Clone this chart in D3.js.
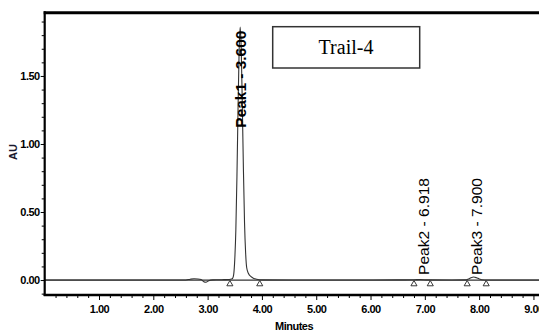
<!DOCTYPE html>
<html><head><meta charset="utf-8">
<script src="https://cdn.jsdelivr.net/npm/d3@7"></script>
<style>
html,body{margin:0;padding:0;background:#fff;}
svg{display:block;}
</style></head>
<body>
<svg id="c" width="539" height="332"></svg>
<script>
// ---- data ----
const time = [0, 1.0, 2.0, 2.6, 2.68, 2.75, 2.82, 2.88, 2.93, 2.97, 3.02, 3.1, 3.2, 3.3, 3.4, 3.44,
  3.46, 3.48, 3.5, 3.52, 3.54, 3.56, 3.58, 3.6, 3.62, 3.64, 3.66, 3.68, 3.7, 3.72, 3.75, 3.8, 3.85, 3.9, 3.95,
  4.0, 5.0, 6.0, 6.5, 6.8, 6.918, 7.05, 7.5, 7.75, 7.8, 7.85, 7.9, 7.95, 8.0, 8.05, 8.15, 9.0, 9.3];
const au = [0, 0, 0, 0, 0.006, 0.009, 0.008, 0.004, -0.012, -0.016, -0.005, 0.001, 0.002, 0.003, 0.004, 0.007,
  0.012, 0.04, 0.15, 0.37, 0.76, 1.25, 1.68, 1.86, 1.68, 1.26, 0.8, 0.42, 0.2, 0.09, 0.05, 0.025, 0.012, 0.006, 0.002,
  0.001, 0, 0, 0.001, 0.002, 0.004, 0.001, 0, 0.001, 0.007, 0.017, 0.022, 0.017, 0.008, 0.002, 0, 0, 0];
const markerTimes = [3.41, 3.96, 6.80, 7.10, 7.78, 8.13];
const peakLabels = ["Peak1 - 3.600", "Peak2 - 6.918", "Peak3 - 7.900"];
const peakTimes = [3.600, 6.918, 7.900];
const peakLabelBase = [1.12, 0.037, 0.037];
const xMajorTicks = [1, 2, 3, 4, 5, 6, 7, 8, 9];
const yMajorTicks = [0, 0.5, 1.0, 1.5];
const xTitle = "Minutes";
const yTitle = "AU";
const chartTitle = "Trail-4";

// ---- layout ----
const svg = d3.select("#c");
const mL = 44.7, mR = 544.3, mT = 12.7, mB = 295;
const x = d3.scaleLinear().domain([0, 9.2]).range([mL, mR]);
const y = d3.scaleLinear().domain([-0.11, 1.965]).range([mB, mT]);

const narrow = "'Liberation Sans Narrow','Arial Narrow','Liberation Sans',Arial,sans-serif";

// baseline at 0
svg.append("line").attr("x1", mL).attr("x2", 539).attr("y1", y(0)).attr("y2", y(0))
  .attr("stroke", "#333").attr("stroke-width", 1.2);

// trace
const pts = time.map((t, i) => [t, au[i]]);
svg.append("path").datum(pts)
  .attr("d", d3.line().x(d => x(d[0])).y(d => y(d[1])).curve(d3.curveMonotoneX))
  .attr("fill", "none").attr("stroke", "#333").attr("stroke-width", 1.1);

// markers
svg.selectAll(".mk").data(markerTimes).join("path")
  .attr("d", d3.symbol(d3.symbolTriangle, 16)())
  .attr("transform", d => `translate(${x(d)},${y(0) + 4})`)
  .attr("fill", "#fff").attr("stroke", "#222").attr("stroke-width", 0.9);

// axes
const xMinor = d3.range(0.2, 9.2, 0.2).filter(v => Math.abs(v - Math.round(v)) > 0.01);
const yMinor = d3.range(-0.1, 1.95, 0.1).filter(v => Math.abs(v * 2 - Math.round(v * 2)) > 0.01);

const gx = svg.append("g").attr("transform", `translate(0,${mB})`);
gx.call(d3.axisBottom(x).tickValues(xMinor).tickSize(3).tickFormat(""));
gx.select(".domain").remove();
const gx2 = svg.append("g").attr("transform", `translate(0,${mB})`);
gx2.call(d3.axisBottom(x).tickValues(xMajorTicks).tickSize(5).tickFormat(d3.format(".2f")).tickPadding(5));
gx2.select(".domain").remove();
gx2.selectAll("text").attr("font-family", narrow).attr("font-size", 11).attr("fill", "#000")
  .attr("font-weight", "bold").style("letter-spacing", "-0.5px");

const gy = svg.append("g").attr("transform", `translate(${mL},0)`);
gy.call(d3.axisLeft(y).tickValues(yMinor).tickSize(3).tickFormat(""));
gy.select(".domain").remove();
const gy2 = svg.append("g").attr("transform", `translate(${mL},0)`);
gy2.call(d3.axisLeft(y).tickValues(yMajorTicks).tickSize(4).tickFormat(d3.format(".2f")).tickPadding(1));
gy2.select(".domain").remove();
svg.selectAll("g .tick line").attr("stroke", "#000");
gy2.selectAll("text").attr("font-family", narrow).attr("font-size", 11).attr("fill", "#000")
  .attr("font-weight", "bold").style("letter-spacing", "-0.5px");

// frame lines
svg.append("line").attr("x1", mL).attr("x2", mL).attr("y1", mT - 1.5).attr("y2", mB + 1)
  .attr("stroke", "#000").attr("stroke-width", 2.2);
svg.append("line").attr("x1", mL - 1).attr("x2", 539).attr("y1", mB).attr("y2", mB)
  .attr("stroke", "#000").attr("stroke-width", 2.5);
svg.append("line").attr("x1", mL - 1).attr("x2", 539).attr("y1", mT).attr("y2", mT)
  .attr("stroke", "#000").attr("stroke-width", 3);

// axis titles
svg.append("text").attr("transform", `translate(17,152) rotate(-90)`).attr("text-anchor", "middle")
  .attr("font-family", "'Liberation Sans',Arial,sans-serif").attr("font-size", 11).attr("font-weight", "bold")
  .attr("fill", "#1a1a2e").text(yTitle);
svg.append("text").attr("x", 294).attr("y", 330).attr("text-anchor", "middle")
  .attr("font-family", narrow).attr("font-size", 11).attr("font-weight", "bold")
  .style("letter-spacing", "-0.5px").attr("fill", "#000").text(xTitle);

// peak labels
const labelDx = [0.5, 4, 3.5];
peakLabels.forEach((lab, i) => {
  svg.append("text")
    .attr("transform", `translate(${x(peakTimes[i]) + labelDx[i]},${y(peakLabelBase[i])}) rotate(-90)`)
    .attr("dy", "0.36em")
    .attr("font-family", "'Liberation Sans',Arial,sans-serif").attr("font-size", 14)
    .attr("font-weight", i === 0 ? "bold" : "normal")
    .attr("textLength", 97).attr("lengthAdjust", "spacingAndGlyphs")
    .attr("fill", "#000").text(lab);
});

// title box
svg.append("rect").attr("x", 272.7).attr("y", 26.7).attr("width", 147).attr("height", 41.3)
  .attr("fill", "#fff").attr("stroke", "#333").attr("stroke-width", 1.5);
svg.append("text").attr("x", 346).attr("y", 54).attr("text-anchor", "middle")
  .attr("font-family", "'Liberation Serif','Times New Roman',serif").attr("font-size", 20)
  .attr("fill", "#000").text(chartTitle);
</script>
</body></html>
